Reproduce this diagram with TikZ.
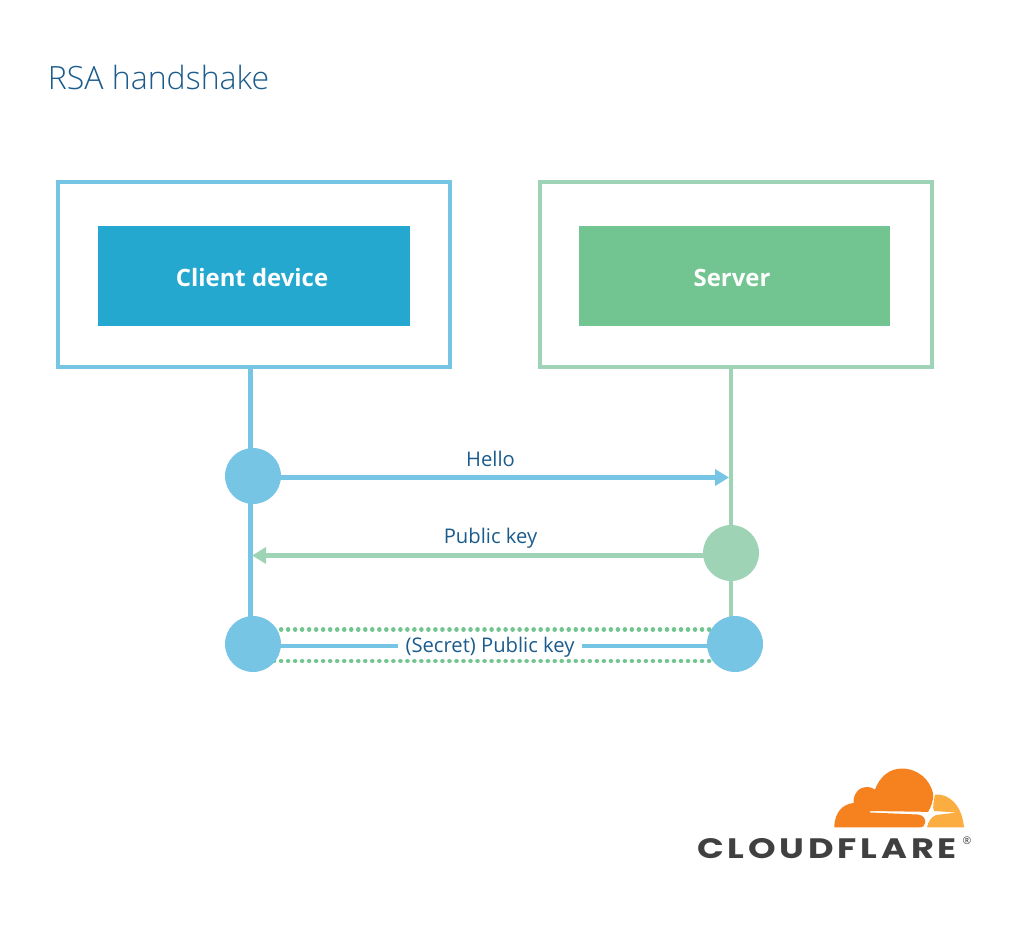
\documentclass[tikz,border=0pt]{standalone}
\usepackage{fontspec}
\usepackage{tikz}
\usetikzlibrary{arrows.meta,backgrounds}
\setmainfont{Open Sans}
\newfontfamily\titlefont{Open Sans Light}
\newfontfamily\logofont[LetterSpace=13.5,FakeStretch=1.25]{Poppins Bold}
\definecolor{cliblue}{HTML}{76C5E5}
\definecolor{clifill}{HTML}{24A8CF}
\definecolor{srvgreen}{HTML}{9FD3B5}
\definecolor{srvfill}{HTML}{72C591}
\definecolor{labelblue}{HTML}{1B5C8C}
\definecolor{cforange}{HTML}{F6821F}
\definecolor{cfyellow}{HTML}{FBAD41}
\definecolor{cfgrey}{HTML}{404041}

\begin{document}
\begin{tikzpicture}[x=0.02cm,y=-0.02cm]
      \tikzstyle{outerbox}=[draw, line width=2.2pt, fill=white, minimum width=7.84cm, minimum height=3.7cm]
      \tikzstyle{innerbox}=[inner sep=0pt, minimum width=6.24cm, minimum height=2cm, fill=#1]
      \tikzstyle{boxtext}=[text=white, inner sep=0pt, font=\fontsize{13.6}{16}\selectfont\bfseries]
      \tikzstyle{dot}=[circle, inner sep=0pt, minimum size=1.12cm]
      \tikzstyle{lifeline}=[line width=2.3pt]
      \tikzstyle{fleche}=[-{Triangle[length=0.28cm,width=0.32cm]},line width=2.3pt]
      \tikzstyle{dotted line}=[srvfill, line width=2.6pt, line cap=round, dash pattern=on 0.01pt off 0.14cm]
      \tikzstyle{msg}=[text=labelblue, font=\fontsize{11.5}{14}\selectfont]

      \useasboundingbox (0,0) rectangle (1016,936);

      \node[text=labelblue, anchor=base west, inner sep=0pt, font=\fontsize{18.25}{20}\selectfont\titlefont] (Title) at (47.5,90) {RSA handshake};

      \node[outerbox, draw=cliblue] (Client) at (254,274.5) {};
      \node[outerbox, draw=srvgreen] (Server) at (736,274.5) {};
      \node[innerbox=clifill] (ClientIn) at (254,276) {};
      \node[innerbox=srvfill] (ServerIn) at (734.5,276) {};
      \node[boxtext] (ClientText) at (252,278) {Client device};
      \node[boxtext] (ServerText) at (732,278) {Server};

      \node[dot, fill=cliblue] (CliHello) at (253,476) {};
      \node[dot, fill=srvgreen] (SrvKey) at (731,553) {};
      \node[dot, fill=cliblue] (CliSecret) at (253,644) {};
      \node[dot, fill=cliblue] (SrvSecret) at (735,644) {};

      \coordinate (CliTop) at (250.5,367);
      \coordinate (SrvTop) at (731,367);
      \coordinate (HelloEnd) at (729,477.5);
      \coordinate (KeyEnd) at (252,555.5);
      \coordinate (SecretMid) at (490,646);
      \coordinate (DotsUp) at (490,629.5);
      \coordinate (DotsDown) at (490,661);

      \begin{pgfonlayer}{background}
        \draw[lifeline, cliblue] (CliTop)--(CliTop |- CliSecret);
        \draw[lifeline, srvgreen] (SrvTop)--(SrvTop |- SrvSecret);
        \draw[fleche, cliblue] (HelloEnd -| CliHello)--(HelloEnd);
        \draw[fleche, srvgreen] (KeyEnd -| SrvKey)--(KeyEnd);
        \draw[lifeline, cliblue] (SecretMid -| CliSecret)--(SecretMid -| SrvSecret);
        \draw[dotted line] (DotsUp -| CliSecret)--(DotsUp -| SrvSecret);
        \draw[dotted line] (DotsDown -| CliSecret)--(DotsDown -| SrvSecret);
      \end{pgfonlayer}

      \node[msg] (Hello) at (490.5,459) {Hello};
      \node[msg] (PubKey) at (490.5,538) {Public key};
      \node[msg, fill=white, inner xsep=0pt, inner ysep=0pt, minimum width=3.68cm] (Secret) at (490,647) {(Secret) Public key};

      % logo
      \fill[cforange] (834.3,827.3) .. controls (834.5,812) and (843,804) .. (853.5,803)
        .. controls (853,793) and (860,787) .. (866,787)
        .. controls (870,787) and (873,788) .. (875,789.5)
        .. controls (880,776) and (890,768.5) .. (902,768.5)
        .. controls (918,768.5) and (930,780) .. (933,793)
        .. controls (934,800) and (931,807) .. (928,812)
        -- (920,811.7) -- (870,811) -- (870,812.5) -- (918,814.5)
        .. controls (924,815) and (926,820) .. (925,823)
        .. controls (924,826) and (923,827.3) .. (921,827.3) -- cycle;
      \fill[cfyellow] (935,794.5) .. controls (950,793.5) and (962,806) .. (964,827.3)
        -- (927,827.3) .. controls (928,822) and (931,817) .. (936,815)
        -- (957,812.5) -- (934,811) .. controls (932,808) and (934,800) .. (935,794.5) -- cycle;
      \node[text=cfgrey, anchor=base west, inner sep=0pt, font=\fontsize{16}{18}\logofont] (Logo) at (697,858) {CLOUDFLARE};
      \node[text=cfgrey, inner sep=0pt, font=\fontsize{6}{7}\selectfont] (Reg) at (967,841) {®};
    \end{tikzpicture}
\end{document}
